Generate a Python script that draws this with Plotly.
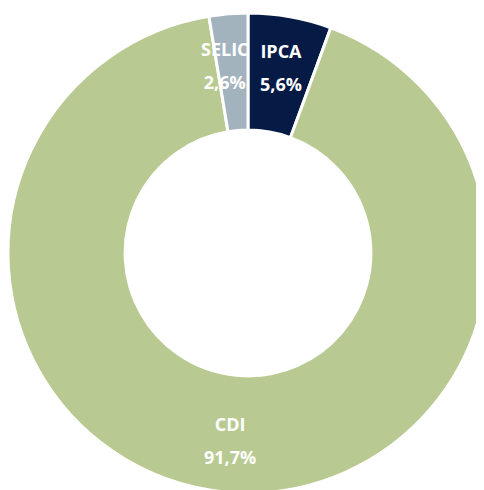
import math
import plotly.graph_objects as go

labels = ["IPCA", "CDI", "SELIC"]
values = [5.6, 91.7, 2.6]
colors = ["#061A46", "#B8CA92", "#A3B3BE"]

fig = go.Figure(go.Pie(
    labels=labels,
    values=values,
    hole=0.512,
    sort=False,
    direction="clockwise",
    rotation=0,
    marker=dict(colors=colors, line=dict(color="white", width=3)),
    textinfo="none",
    showlegend=False,
    hoverinfo="label+value",
))

# label placement: at the middle angle of each slice, within the ring
total = sum(values)
label_radius = 0.785  # fraction of outer radius
x_shift = {"SELIC": -8}
cum = 0.0
for lab, val in zip(labels, values):
    mid = (cum + val / 2) / total * 2 * math.pi
    cum += val
    x = 0.5 + 0.5 * label_radius * math.sin(mid)
    y = 0.5 + 0.5 * label_radius * math.cos(mid)
    txt = ("<span style='font-size:18px'><b>%s</b></span><br>"
           "<span style='font-size:18px'><b>%s%%</b></span>"
           % (lab, f"{val:.1f}".replace(".", ",")))
    fig.add_annotation(
        x=x, y=y, xref="paper", yref="paper",
        xanchor="center", yanchor="middle",
        text=txt, showarrow=False,
        xshift=x_shift.get(lab, 0),
        font=dict(family="Open Sans", size=25, color="white"),
    )

fig.update_layout(
    width=484, height=490,
    margin=dict(l=0, r=4, t=5, b=5),
    separators=",.",
    paper_bgcolor="white",
    plot_bgcolor="white",
)

fig.write_html("out.html")
